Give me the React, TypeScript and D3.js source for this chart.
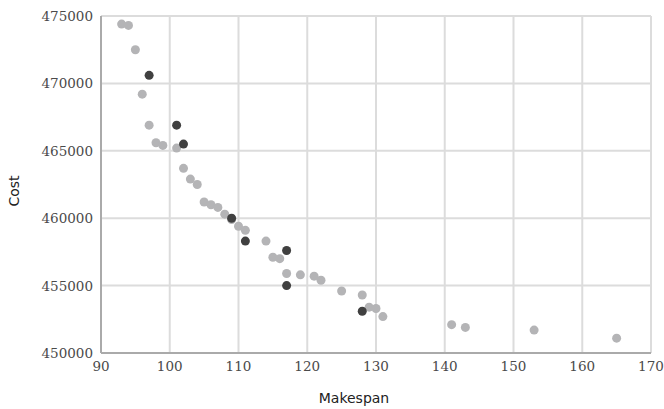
import React from "react";
import * as d3 from "d3";

// light points (all solutions)
const lightMakespan = [93, 94, 95, 96, 97, 98, 99, 101, 102, 103, 104, 105, 106, 107, 108, 109, 110, 111, 114, 115, 116, 117, 119, 121, 122, 125, 128, 129, 130, 131, 141, 143, 153, 165];
const lightCost = [474400, 474300, 472500, 469200, 466900, 465600, 465400, 465200, 463700, 462900, 462500, 461200, 461000, 460800, 460300, 459900, 459400, 459100, 458300, 457100, 457000, 455900, 455800, 455700, 455400, 454600, 454300, 453400, 453300, 452700, 452100, 451900, 451700, 451100];

// dark points
const darkMakespan = [97, 101, 102, 109, 111, 117, 117, 128];
const darkCost = [470600, 466900, 465500, 460000, 458300, 457600, 455000, 453100];

const xTicks = [90, 100, 110, 120, 130, 140, 150, 160, 170];
const yTicks = [450000, 455000, 460000, 465000, 470000, 475000];

const W = 664;
const H = 409;
const margin = { left: 101, right: 13, top: 16, bottom: 56 };

export default function App() {
  const x = d3.scaleLinear().domain([90, 170]).range([margin.left, W - margin.right]);
  const y = d3.scaleLinear().domain([450000, 475000]).range([H - margin.bottom, margin.top]);

  const light = lightMakespan.map((m, i) => [m, lightCost[i]]);
  const dark = darkMakespan.map((m, i) => [m, darkCost[i]]);

  return (
    <svg width={W} height={H} style={{ position: "absolute", left: 0, top: 0 }}>
      <rect width={W} height={H} fill="#fff" />
      {xTicks.map((t) => (
        <line key={"gx" + t} x1={x(t)} x2={x(t)} y1={y.range()[1]} y2={y.range()[0]} stroke="#dcdcdc" strokeWidth={2} />
      ))}
      {yTicks.map((t) => (
        <line key={"gy" + t} x1={x.range()[0]} x2={x.range()[1]} y1={y(t)} y2={y(t)} stroke="#dcdcdc" strokeWidth={2} />
      ))}
      <line x1={x.range()[0]} x2={x.range()[1]} y1={y.range()[0]} y2={y.range()[0]} stroke="#aaa" strokeWidth={2} />
      <line x1={x.range()[0]} x2={x.range()[0]} y1={y.range()[0]} y2={y.range()[1]} stroke="#aaa" strokeWidth={2} />
      {xTicks.map((t) => (
        <text key={"tx" + t} x={x(t)} y={y.range()[0] + 18} textAnchor="middle" fontFamily="DejaVu Serif" fontSize={13.5} fill="#4a4a4a">
          {t}
        </text>
      ))}
      {yTicks.map((t) => (
        <text key={"ty" + t} x={x.range()[0] - 8} y={y(t) + 5} textAnchor="end" fontFamily="DejaVu Serif" fontSize={13.5} fill="#4a4a4a">
          {t}
        </text>
      ))}
      {light.map((d, i) => (
        <circle key={"l" + i} cx={x(d[0])} cy={y(d[1])} r={4.5} fill="#b4b4b6" />
      ))}
      {dark.map((d, i) => (
        <circle key={"d" + i} cx={x(d[0])} cy={y(d[1])} r={4.5} fill="#404040" />
      ))}
      <text x={354} y={403} textAnchor="middle" fontFamily="DejaVu Sans" fontSize={14} fill="#222">
        Makespan
      </text>
      <text transform={`translate(19,191) rotate(-90)`} textAnchor="middle" fontFamily="DejaVu Sans" fontSize={14} fill="#222">
        Cost
      </text>
    </svg>
  );
}
